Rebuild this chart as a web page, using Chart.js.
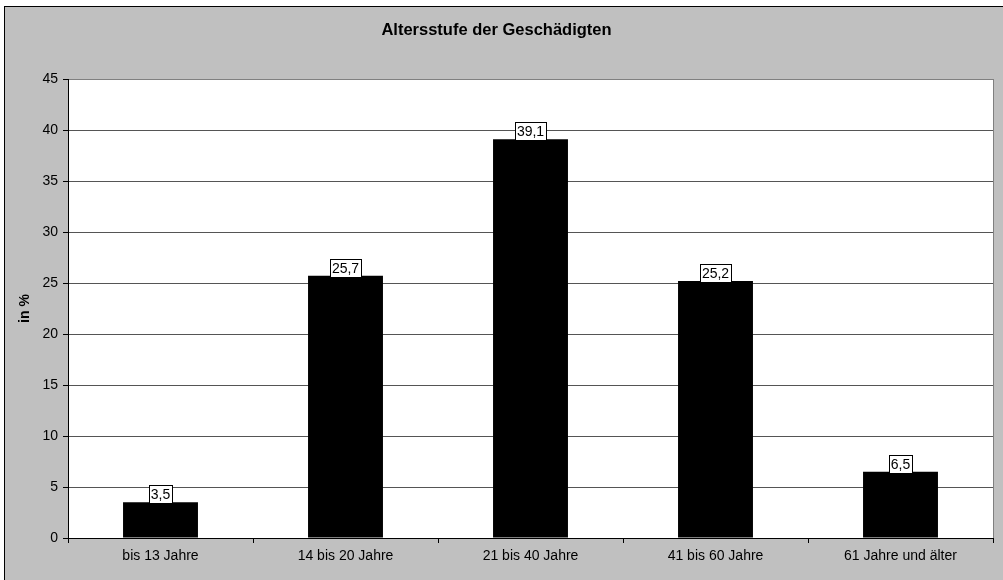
<!DOCTYPE html>
<html>
<head>
<meta charset="utf-8">
<script src="https://cdn.jsdelivr.net/npm/chart.js@4.4.1/dist/chart.umd.min.js"></script>
<style>
  html, body { margin: 0; padding: 0; background: #fff; }
  #wrap { width: 1003px; height: 580px; }
</style>
</head>
<body>
<div id="wrap"><canvas id="alterChart" width="1003" height="580"></canvas></div>
<script>
const kategorien = ["bis 13 Jahre", "14 bis 20 Jahre", "21 bis 40 Jahre", "41 bis 60 Jahre", "61 Jahre und älter"];
const anteile = [3.5, 25.7, 39.1, 25.2, 6.5];
const yTicks = [0, 5, 10, 15, 20, 25, 30, 35, 40, 45];

const FONT = "'Liberation Sans', Arial, sans-serif";

// grauer Hintergrund, Rahmen, weisse Zeichenfläche
const hintergrund = {
  id: "hintergrund",
  beforeDraw(chart) {
    const ctx = chart.ctx;
    const a = chart.chartArea;
    ctx.save();
    ctx.fillStyle = "#fff";
    ctx.fillRect(0, 0, chart.width, chart.height);
    ctx.fillStyle = "#c0c0c0";
    ctx.fillRect(4, 6, chart.width, chart.height);
    ctx.strokeStyle = "#000";
    ctx.lineWidth = 1;
    ctx.strokeRect(4.5, 6.5, chart.width + 10, chart.height + 10);
    ctx.fillStyle = "#fff";
    ctx.fillRect(a.left, a.top, a.right - a.left, a.bottom - a.top);
    ctx.restore();
  },
  afterDraw(chart) {
    const ctx = chart.ctx;
    const a = chart.chartArea;
    ctx.save();
    ctx.strokeStyle = "#808080";
    ctx.lineWidth = 1;
    ctx.beginPath();
    ctx.moveTo(Math.round(a.right) + 0.5, a.top);
    ctx.lineTo(Math.round(a.right) + 0.5, a.bottom);
    ctx.stroke();
    ctx.restore();
  }
};

// Werte in weissen Kästchen über den Balken
const wertLabels = {
  id: "wertLabels",
  afterDatasetsDraw(chart) {
    const ctx = chart.ctx;
    const meta = chart.getDatasetMeta(0);
    ctx.save();
    ctx.font = "14px " + FONT;
    ctx.textAlign = "center";
    ctx.textBaseline = "middle";
    meta.data.forEach(function (bar, i) {
      const txt = anteile[i].toFixed(1).replace(".", ",");
      const w = Math.round(ctx.measureText(txt).width) + 4;
      const h = 18;
      const x = Math.round(bar.x - w / 2) + 0.5;
      const y = Math.round(bar.y - h + 1) + 0.5;
      ctx.fillStyle = "#fff";
      ctx.fillRect(x, y, w, h);
      ctx.strokeStyle = "#000";
      ctx.lineWidth = 1;
      ctx.strokeRect(x, y, w, h);
      ctx.fillStyle = "#000";
      ctx.fillText(txt, bar.x, y + h / 2 + 1);
    });
    ctx.restore();
  }
};

document.addEventListener("DOMContentLoaded", function () {
  const ctx = document.getElementById("alterChart").getContext("2d");
  const alterChart = new Chart(ctx, {
    type: "bar",
    data: {
      labels: kategorien,
      datasets: [
        {
          label: "in %",
          data: anteile,
          backgroundColor: "#000",
          borderWidth: 0,
          categoryPercentage: 1,
          barPercentage: 0.405,
        },
      ],
    },
    options: {
      responsive: false,
      animation: false,
      layout: { padding: { left: 0, right: 10, top: 0, bottom: 0 } },
      plugins: {
        legend: { display: false },
        tooltip: { enabled: false },
        title: {
          display: true,
          text: "Altersstufe der Geschädigten",
          color: "#000",
          font: { family: FONT, size: 16.5, weight: "bold" },
          padding: { top: 21, bottom: 38.2 },
        },
      },
      scales: {
        x: {
          grid: {
            offset: true,
            drawOnChartArea: false,
            drawTicks: true,
            tickLength: 5,
            color: "#000",
          },
          border: { color: "#000", width: 1 },
          ticks: {
            color: "#000",
            font: { family: FONT, size: 14 },
            padding: 5,
            maxRotation: 0,
          },
          afterFit(scale) { scale.height = 42; },
        },
        y: {
          min: 0,
          max: 45,
          afterBuildTicks(scale) {
            scale.ticks = yTicks.map(function (v) { return { value: v }; });
          },
          grid: {
            color: function (c) { return c.tick && c.tick.value === 45 ? "#808080" : "#555"; },
            tickColor: "#000",
            tickLength: 5,
          },
          border: { color: "#000", width: 1 },
          ticks: {
            color: "#000",
            font: { family: FONT, size: 14 },
            padding: 5,
          },
          title: {
            display: true,
            text: "in %",
            color: "#000",
            font: { family: FONT, size: 14, weight: "bold" },
            padding: { top: 17, bottom: 0 },
          },
          afterFit(scale) { scale.width = 68; },
        },
      },
    },
    plugins: [hintergrund, wertLabels],
  });
});
</script>
</body>
</html>
